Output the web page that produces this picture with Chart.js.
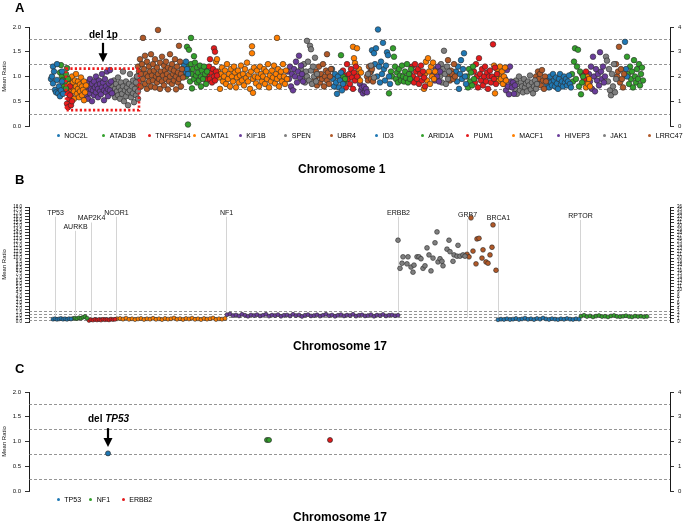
<!DOCTYPE html>
<html><head><meta charset="utf-8">
<script src="https://cdn.jsdelivr.net/npm/chart.js@4.4.0/dist/chart.umd.min.js"></script>
<style>
html,body{margin:0;padding:0;background:#fff;}
body{width:685px;height:523px;overflow:hidden;position:relative;font-family:"Liberation Sans",Arial,Helvetica,sans-serif;}
canvas{position:absolute;left:0;top:0;}
.t{position:absolute;white-space:nowrap;color:#000;}
.dot{position:absolute;width:3px;height:3px;border-radius:50%;}
</style></head>
<body>
<canvas id="cA" width="685" height="523"></canvas>
<canvas id="cB" width="685" height="523"></canvas>
<canvas id="cC" width="685" height="523"></canvas>
<script>
// ---------- colours ----------
const palette = ['#1f78b4','#33a02c','#e31a1c','#ff7f00','#6a3d9a','#7f7f7f','#b15928'];

// ---------- Panel A : chromosome 1 (position index, mean ratio) ----------
const chr1Legend = ['NOC2L','ATAD3B','TNFRSF14','CAMTA1','KIF1B','SPEN','UBR4','ID3','ARID1A','PUM1','MACF1','HIVEP3','JAK1','LRRC47'];
const chr1_NOC2L = [22,0.95,23,1.0,24,1.2,24,0.86,25,1.1,26,0.73,27,0.68,28,1.25,28,0.93,29,0.66,30,0.8,31,0.6,32,0.72,33,1.1,33,0.9,34,0.65];
const chr1_ATAD3B = [31,1.08,32,1.23,33,1.0,34,0.93,35,0.8,36,0.9,37,1.05,37,0.76,38,1.17,39,0.95];
const chr1_TNFRSF14 = [37,0.7,38,0.45,39,0.38,39,0.66,40,0.55,41,0.8,41,0.62,42,0.42,43,0.5];
const chr1_CAMTA1 = [39,0.85,40,0.72,41,0.95,42,0.6,43,0.78,43,1.0,44,0.88,45,0.55,45,0.7,46,0.92,47,0.8,47,1.05,48,0.65,49,0.75,49,0.9,50,0.58,51,0.84,51,0.7,52,0.98,53,0.62,53,0.8,54,0.73,55,0.9,55,0.52,56,0.68,57,0.82];
const chr1_KIF1B = [56,0.75,57,0.62,58,0.88,59,0.7,59,0.55,60,0.8,61,0.95,61,0.66,62,0.74,63,0.85,63,0.5,64,0.72,65,0.9,65,0.62,66,0.78,67,1.0,67,0.68,68,0.82,69,0.58,69,0.75,70,0.92,71,0.7,71,0.85,72,0.64,73,0.78,73,1.05,74,0.88,75,0.72,75,0.52,76,0.95,77,0.68,77,0.8,78,1.1,79,0.74,79,0.6,80,0.86,81,1.13,81,0.72,82,0.9,83,0.66];
const chr1_SPEN = [83,0.8,84,0.68,85,0.92,86,0.75,86,0.58,87,0.85,88,0.7,89,0.98,89,0.62,90,0.78,91,0.55,92,0.88,92,0.72,93,0.65,94,1.1,94,0.8,95,0.5,96,0.72,97,0.9,97,0.6,98,0.78,99,0.42,99,0.68,100,0.85,101,0.72,101,1.05,102,0.58,103,0.8,104,0.66,104,0.92,105,0.48,106,0.75,107,0.88,107,0.62,108,1.0,109,0.7,109,0.55];
const chr1_UBR4 = [108,1.0,108,0.78,109,1.2,110,1.1,110,0.9,111,1.35,112,1.05,112,0.8,113,1.25,114,1.78,114,0.95,115,1.15,116,1.42,116,0.85,117,1.05,118,1.3,118,0.75,119,1.0,120,1.2,120,0.9,121,1.1,122,1.45,122,0.8,123,1.02,124,1.25,124,0.92,125,1.12,126,0.78,126,1.35,127,1.0,128,1.18,128,0.88,129,1.94,129,1.05,130,0.95,131,1.28,131,0.75,132,1.1,133,1.4,133,0.9,134,1.02,135,1.22,135,0.82,136,1.12,137,0.95,137,1.3,138,1.05,139,0.74,139,1.18,140,0.9,141,1.45,141,1.0,142,1.15,143,0.85,143,1.25,144,1.05,145,0.92,145,1.12,146,1.35,147,0.74,147,1.0,148,1.2,149,0.88,149,1.08,150,1.62,150,0.95,151,1.3,152,1.05,152,0.8,153,1.15,154,0.98];
const chr1_ID3 = [155,1.22,156,1.1,157,1.3,158,1.15,159,1.05];
const chr1_ARID1A = [157,1.0,158,1.6,158,1.2,159,0.03,160,1.54,160,1.1,161,0.9,162,1.78,162,1.25,163,0.76,163,1.05,164,1.15,165,0.95,165,1.41,166,1.28,167,1.02,168,0.88,168,1.18,169,1.08,170,0.92,171,1.22,172,1.0,172,0.8,173,1.12,174,0.95,175,1.2,176,1.05,177,0.85,178,1.1];
const chr1_PUM1 = [176,1.0,177,1.12,178,0.92,179,1.05,180,1.2,181,0.95,181,1.35,182,1.08,183,0.88,184,1.15,185,1.0,185,1.57,186,1.5,186,0.92,187,1.1,188,1.02];
const chr1_MACF1 = [187,1.3,188,1.35,189,1.1,190,0.98,191,0.75,192,1.05,193,1.18,194,0.9,195,1.0,196,1.12,197,0.85,198,1.25,199,0.95,200,1.05,201,0.8,202,1.15,203,1.0,204,0.9,205,1.2,206,1.08,207,0.78,208,0.98,209,1.12,210,0.88,211,1.02,212,1.22,213,0.92,214,1.05,215,0.82,216,1.15,217,0.97,218,1.28,219,0.9,220,1.04,221,0.75,222,1.1,223,1.61,223,1.47,224,0.67,224,0.95,225,1.18,226,1.0,227,0.86,228,1.12,229,0.98,230,0.8,231,1.2,232,1.05,233,0.9,234,1.0,235,1.15,236,0.85,237,1.1,238,0.95,239,1.25,240,0.78,241,1.02,242,0.9,243,1.12,244,0.98,245,1.22,246,0.86,247,1.05,248,1.78,248,0.95,249,1.15,250,0.8,251,1.0,252,1.1,253,0.9,254,1.25,255,1.0,256,0.85,257,1.12,258,0.95];
const chr1_HIVEP3 = [259,1.1,260,0.95,261,1.2,262,0.8,263,1.05,264,0.72,265,1.15,266,1.0,267,1.3,268,0.88,269,1.1,270,1.42,271,0.98,272,1.22,273,1.05,274,0.9];
const chr1_JAK1 = [272,1.15,273,0.95,274,1.05,275,1.25,276,0.88,277,1.1,278,1.72,278,1.0,279,1.3,280,0.92,281,1.62,282,1.12,282,1.55,283,0.85,284,1.2,285,1.0,286,1.38,287,0.9,288,1.05];
const chr1_LRRC47 = [286,0.95,287,1.1,288,0.82,289,1.02,290,1.2,291,0.88,292,1.05,293,0.95,294,1.25,295,0.8,296,1.0,297,1.12,298,1.45,298,0.92,299,1.08,300,0.85,301,1.0,302,1.15];
const chr1_g15 = [303,1.15,304,0.95,305,0.8,306,1.05,307,0.88,308,0.65,309,1.0,310,0.78,311,0.92,312,1.08,313,0.72,314,0.85];
const chr1_g16 = [312,1.43,314,1.0,315,0.88,316,0.95];
const chr1_g17 = [314,1.12,315,0.9,316,1.02,317,0.78,318,1.25,319,0.95,320,1.05,321,0.85,322,1.15,323,0.98,324,0.75,325,1.08,326,0.92,327,1.2,328,1.0];
const chr1_g18 = [324,1.6,325,1.37,326,1.27,327,1.05,328,1.57,329,0.98,330,1.15,331,0.92,332,1.08];
const chr1_g19 = [331,0.85,332,0.72,333,0.78,334,0.66,335,0.8,336,0.7,337,0.75,338,0.68];
const chr1_g20 = [339,1.05,342,1.22,345,0.98];
const chr1_g21 = [338,1.0,339,0.92,340,1.2,341,1.08,342,0.95,343,1.15,344,0.9];
const chr1_g22 = [342,1.1,343,1.53,344,0.95,345,1.47,346,1.25,347,1.57,348,1.0,349,1.95,350,1.2,351,0.88,352,1.3,353,1.05,354,1.68,355,1.15,356,0.92,357,1.22,358,1.49,359,1.43,360,1.0,361,0.85];
const chr1_g23 = [360,0.66,362,1.1,363,1.0,364,1.57,365,1.4,366,1.2,367,0.95,368,1.08,369,0.88,370,1.15,371,1.02,372,0.92,373,1.22,374,1.0,375,0.9,376,1.1,377,0.97,378,1.25,379,0.88,380,1.05,381,0.95,382,1.15];
const chr1_g24 = [381,1.05,382,0.92,383,1.2,384,1.0,385,0.88,386,1.25,387,1.1,388,0.95,389,1.15,390,0.85,391,1.05,392,1.22,393,0.92,394,1.1,395,0.98,396,0.8];
const chr1_g25 = [395,0.75,396,1.05,397,1.3,398,0.92,399,1.37,400,1.1,401,0.85,402,1.2,403,1.0,404,1.28,405,0.95,406,1.1];
const chr1_g26 = [405,1.05,406,0.92,407,1.15,408,1.0,409,1.2,410,0.9,411,1.1];
const chr1_g27 = [411,1.0,412,1.25,413,0.88,414,1.15,415,1.52,416,1.05,417,0.85,418,1.2,419,0.95,420,1.1];
const chr1_g28 = [419,1.33,420,1.0,421,0.92,422,1.12,423,1.05,424,0.95,425,1.25,426,1.0];
const chr1_g29 = [427,1.1,428,0.9,429,1.2,430,0.75,431,1.05,432,1.33,433,0.95,434,1.15,435,1.47,436,1.0,437,0.85];
const chr1_g30 = [438,1.0,439,0.78,440,1.15,441,0.9,442,1.08,443,0.82,444,1.2,445,0.95];
const chr1_g31 = [445,1.1,446,0.88,447,1.25,448,1.0,449,0.78,450,1.37,451,1.05,452,0.92,453,1.15,454,0.82,455,1.0,456,1.2,457,0.9,458,1.08,459,0.75,460,1.0,461,1.12,462,0.88,463,1.0,464,1.65,465,0.95,466,1.18,467,0.85,468,1.05];
const chr1_g32 = [465,1.22,466,0.66,467,1.0,468,1.15,469,0.9,470,1.05,471,1.2,472,0.95,473,1.1,474,0.85,475,1.0,476,1.18,477,0.92];
const chr1_g33 = [475,0.85,476,0.95,477,0.72,478,1.13,479,0.8,480,0.64,481,1.2,482,0.9,483,0.78,484,0.88,485,0.65,486,0.82];
const chr1_g34 = [486,0.75,487,0.92,488,0.65,489,0.85,490,1.0,491,0.72,492,0.88,493,0.8,494,0.68,495,0.95,496,0.78,497,0.86,498,0.7,499,0.9,500,0.82,501,1.02,502,0.74,503,0.88,504,0.66,505,0.8,506,0.92,507,0.75,508,0.85];
const chr1_g35 = [507,1.0,508,0.88,509,1.1,510,0.95,511,1.05,512,0.82,513,1.13,514,0.92,515,0.75,516,1.0,517,0.9];
const chr1_g36 = [518,0.85,519,0.95,520,0.78,521,1.0,522,0.88,523,0.82,524,1.05,525,0.92,526,0.8,527,0.98,528,0.86,529,0.75,530,0.95,531,1.05,532,0.84,533,0.9,534,0.8,535,1.0,536,0.88,537,0.95,538,0.82,539,0.9,540,1.02,541,0.85,542,0.78];
const chr1_g37 = [543,1.05,544,0.9,545,1.3,546,1.57,547,0.95,548,1.2,549,1.54,550,0.8,551,1.1,552,0.64,553,0.88,554,1.0];
const chr1_g38 = [553,1.05,555,0.95,557,1.1];
const chr1_g39 = [556,0.9,557,0.78,558,1.0,559,0.85,560,0.95,561,0.8];
const chr1_g40 = [560,1.05,561,0.9,562,1.2,563,0.75,564,1.4,565,1.0,566,0.7,567,1.15,568,0.92,569,1.05,570,0.82,571,1.49,572,1.1,573,0.95,574,1.2,575,0.88,576,1.0];
const chr1_g41 = [577,1.4,578,1.32,579,0.9,580,1.15,581,0.72,582,0.62,583,1.05,584,0.8,585,1.25,586,0.68,587,0.95];
const chr1_g42 = [587,1.25,588,1.0,589,1.1,590,1.6,591,0.88,592,1.15,593,0.95,594,0.78,595,1.05];
const chr1_g43 = [596,1.7,597,1.15,598,1.0];
const chr1_g44 = [598,1.4,599,1.05,600,0.85,601,1.2,602,0.95,603,1.1,604,0.78,605,1.33,606,1.0,607,0.88,608,1.15,609,0.95,610,1.25,611,0.82,612,1.05,613,1.18,614,0.92];
// [values, colour index] in drawing order
const chr1Series = [[chr1_NOC2L,0],[chr1_ATAD3B,1],[chr1_TNFRSF14,2],[chr1_CAMTA1,3],[chr1_KIF1B,4],[chr1_SPEN,5],[chr1_UBR4,6],[chr1_ID3,0],[chr1_ARID1A,1],[chr1_PUM1,2],[chr1_MACF1,3],[chr1_HIVEP3,4],[chr1_JAK1,5],[chr1_LRRC47,6],
 [chr1_g15,0],[chr1_g16,1],[chr1_g17,2],[chr1_g18,3],[chr1_g19,4],[chr1_g20,5],[chr1_g21,6],[chr1_g22,0],[chr1_g23,1],[chr1_g24,2],[chr1_g25,3],[chr1_g26,4],[chr1_g27,5],[chr1_g28,6],
 [chr1_g29,0],[chr1_g30,1],[chr1_g31,2],[chr1_g32,3],[chr1_g33,4],[chr1_g34,5],[chr1_g35,6],[chr1_g36,0],[chr1_g37,1],[chr1_g38,2],[chr1_g39,3],[chr1_g40,4],[chr1_g41,5],[chr1_g42,6],[chr1_g43,0],[chr1_g44,1]];
const del1pBox = [37,110,0.32,1.16]; // x from, x to, ratio from, ratio to
const del1pArrow = [74,1.68,1.29];

// ---------- Panel B : chromosome 17 ----------
const chr17_TP53 = [24,0.45,26,0.5,28,0.42,30,0.48,32,0.55,34,0.45,36,0.5,38,0.42,40,0.52,42,0.47];
const chr17_AURKB = [44,0.55,46,0.6,48,0.52,50,0.65,52,0.58,54,0.75,56,0.85,58,0.6];
const chr17_MAP2K4 = [60,0.25,62,0.35,64,0.3,66,0.4,68,0.32,70,0.38,72,0.3,74,0.42,76,0.35,78,0.4,80,0.33,82,0.45,84,0.38,86,0.42];
const chr17_NCOR1 = [88,0.5,91,0.55,94,0.45,97,0.6,100,0.42,103,0.5,106,0.38,109,0.48,112,0.55,115,0.4,118,0.5,121,0.45,124,0.58,127,0.42,130,0.5,133,0.38,136,0.55,139,0.45,142,0.5,145,0.62,148,0.44,151,0.52,154,0.4,157,0.55,160,0.47,163,0.6,166,0.42,169,0.5,172,0.38,175,0.55,178,0.45,181,0.52,184,0.62,187,0.4,190,0.5,193,0.45,196,0.55];
const chr17_NF1 = [198,1.15,201,1.25,204,1.0,207,1.1,210,0.95,213,1.2,216,1.05,219,0.9,222,1.1,225,1.0,228,1.15,231,0.95,234,1.05,237,1.2,240,0.92,243,1.08,246,1.0,249,1.15,252,0.9,255,1.05,258,1.1,261,0.95,264,1.2,267,1.0,270,1.1,273,0.88,276,1.05,279,1.15,282,0.95,285,1.0,288,1.12,291,0.92,294,1.05,297,1.2,300,0.98,303,1.1,306,0.9,309,1.05,312,1.15,315,0.95,318,1.08,321,1.0,324,1.2,327,0.92,330,1.05,333,1.12,336,0.95,339,1.0,342,1.15,345,0.9,348,1.08,351,1.0,354,1.18,357,0.95,360,1.05,363,1.1,366,0.98,369,1.05];
const chr17_ERBB2 = [369,12.8,371,8.4,373,9.2,374,10.2,378,9.1,379,10.2,382,8.6,384,7.8,385,8.9,388,10.2,390,10.2,392,9.9,394,8.4,396,8.8,398,11.6,400,10.5,402,8.0,404,10.0,406,12.4,408,14.1,409,9.4,411,9.9,413,9.5,414,8.8,418,11.4,420,12.8,421,11.0,424,9.5,425,10.5,428,10.3,429,12.0,431,10.3,434,10.5,436,10.3];
const chr17_GRB7 = [438,10.6,440,10.2,442,16.3,444,11.1,447,9.1,448,13.0,450,13.1,453,10.0,454,11.3,457,9.4,459,9.2,461,10.5,463,11.7,464,15.2,467,8.1];
const chr17_BRCA1 = [469,0.35,472,0.45,475,0.4,478,0.5,481,0.38,484,0.45,487,0.55,490,0.4,493,0.48,496,0.6,499,0.42,502,0.5,505,0.38,508,0.55,511,0.45,514,0.62,517,0.48,520,0.4,523,0.52,526,0.45,529,0.38,532,0.5,535,0.42,538,0.55,541,0.45,544,0.4,547,0.5,550,0.45];
const chr17_RPTOR = [552,0.9,555,1.05,558,0.85,561,0.95,564,0.8,567,0.92,570,1.0,573,0.85,576,0.9,579,0.8,582,0.95,585,1.02,588,0.88,591,0.82,594,0.9,597,0.98,600,0.85,603,0.8,606,0.92,609,0.85,612,0.9,615,0.82,618,0.88];
const chr17Series = [[chr17_TP53,0,'s'],[chr17_AURKB,1,'s'],[chr17_MAP2K4,2,'s'],[chr17_NCOR1,3,'s'],[chr17_NF1,4,'s'],[chr17_ERBB2,5,'l'],[chr17_GRB7,6,'l'],[chr17_BRCA1,0,'s'],[chr17_RPTOR,1,'s']];
const chr17Labels = ['TP53','AURKB','MAP2K4','NCOR1','NF1','ERBB2','GRB7','BRCA1','RPTOR'];
const chr17LabelPos = [26,46,62,87,197,369,438,469,551];
const chr17LabelHeight = [17.1,14.9,16.2,17.1,17.1,17.1,16.7,16.3,16.6];

// ---------- Panel C : chromosome 17 selected genes ----------
const panelCLegend = ['TP53','NF1','ERBB2'];
const panelC_TP53 = [79,0.76];
const panelC_NF1 = [238,1.03,240,1.03];
const panelC_ERBB2 = [301,1.03];
const panelCSeries = [[panelC_TP53,0],[panelC_NF1,1],[panelC_ERBB2,2]];
const delTP53Arrow = [79,1.27,0.89];

// ratio reference lines
const refLines = [0.25,0.75,1.25,1.75];

// ---------- helpers ----------
const FONT = '"Liberation Sans", Arial, Helvetica, sans-serif';
Chart.defaults.font.family = FONT;
function pairs(a){const o=[];for(let i=0;i<a.length;i+=2)o.push({x:a[i],y:a[i+1]});return o;}
function ds(arr,ci,r,bw){return {data:pairs(arr),yAxisID:'y',xAxisID:'x',pointRadius:r,pointHoverRadius:r,pointBackgroundColor:palette[ci],pointBorderColor:'#2a2a2a',pointBorderWidth:bw,showLine:false,clip:false};}

const dashPlugin = {id:'dash',beforeDatasetsDraw(chart){const {ctx,chartArea:a}=chart;const ys=chart.scales.y;ctx.save();ctx.strokeStyle='#7a7a7a';ctx.lineWidth=0.8;ctx.setLineDash([3,2]);
 refLines.forEach(v=>{const p=Math.round(ys.getPixelForValue(v))+0.5;ctx.beginPath();ctx.moveTo(a.left,p);ctx.lineTo(a.right,p);ctx.stroke();});ctx.restore();}};
function drawArrow(ctx,x,y0,y1){ctx.save();ctx.fillStyle='#000';ctx.strokeStyle='#000';ctx.lineWidth=2.2;ctx.beginPath();ctx.moveTo(x,y0);ctx.lineTo(x,y1-7);ctx.stroke();
 ctx.beginPath();ctx.moveTo(x-4.5,y1-9);ctx.lineTo(x+4.5,y1-9);ctx.lineTo(x,y1);ctx.closePath();ctx.fill();ctx.restore();}

function makeChart(id,datasets,o,extra){
 return new Chart(document.getElementById(id),{type:'scatter',data:{datasets},
 options:{responsive:false,animation:false,devicePixelRatio:1,events:[],
  layout:{padding:{top:o.top,bottom:o.bottom,left:0,right:0}},
  plugins:{legend:{display:false},tooltip:{enabled:false}},
  scales:{
   x:{type:'linear',min:0,max:641,display:false},
   y:{type:'linear',position:'left',min:0,max:o.yMax,afterFit(s){s.width=29;},
      ticks:{stepSize:o.yStep,autoSkip:false,color:'#111',font:{size:o.yFont},padding:o.yPad,callback:v=>Number(v).toFixed(1)},
      grid:{drawOnChartArea:false,drawTicks:true,tickLength:4,color:'#000',lineWidth:0.8},
      border:{display:true,color:'#000',width:0.9},
      title:{display:true,text:'Mean Ratio',color:'#111',font:{size:6},padding:{top:1,bottom:0}}},
   y2:{type:'linear',position:'right',min:0,max:o.rMax,afterFit(s){s.width=15;},
      ticks:{stepSize:o.rStep,autoSkip:false,color:'#111',font:{size:o.rFont},padding:o.rPad,callback:v=>String(Math.round(v))},
      grid:{drawOnChartArea:false,drawTicks:true,tickLength:4,color:'#000',lineWidth:0.8},
      border:{display:true,color:'#000',width:0.9}}
  }},
 plugins:[dashPlugin].concat(extra||[])});
}

// ---------- Panel A ----------
const dsA = chr1Series.map(s=>ds(s[0],s[1],2.8,0.6));
makeChart('cA',dsA,{top:27,bottom:397,yMax:2,yStep:0.5,yFont:6,yPad:4,rMax:4,rStep:1,rFont:6,rPad:4},[{id:'aAnn',afterDatasetsDraw(chart){
 const {ctx}=chart;const xs=chart.scales.x,ys=chart.scales.y;
 const x0=xs.getPixelForValue(del1pBox[0]),x1=xs.getPixelForValue(del1pBox[1]);
 const y0=ys.getPixelForValue(del1pBox[3]),y1=ys.getPixelForValue(del1pBox[2]);
 ctx.save();ctx.strokeStyle='#ee1c1c';ctx.lineWidth=2.6;ctx.setLineDash([2.2,2.2]);ctx.strokeRect(x0,y0,x1-x0,y1-y0);ctx.restore();
 drawArrow(ctx,xs.getPixelForValue(del1pArrow[0]),ys.getPixelForValue(del1pArrow[1]),ys.getPixelForValue(del1pArrow[2]));
}}]);

// ---------- Panel B ----------
const dsB = chr17Series.map(s=>ds(s[0],s[1],s[2]==='l'?2.4:2.0,0.6));
makeChart('cB',dsB,{top:207,bottom:201,yMax:18,yStep:0.5,yFont:4.5,yPad:3,rMax:36,rStep:1,rFont:4.5,rPad:3},[{id:'bAnn',beforeDatasetsDraw(chart){
 const {ctx}=chart;const xs=chart.scales.x,ys=chart.scales.y;
 ctx.save();ctx.font='7px '+FONT;ctx.textAlign='center';ctx.textBaseline='middle';
 chr17Labels.forEach((g,i)=>{const px=Math.round(xs.getPixelForValue(chr17LabelPos[i]))+0.5;const py=ys.getPixelForValue(chr17LabelHeight[i]);
  ctx.strokeStyle='#d4d4d4';ctx.lineWidth=1;ctx.beginPath();ctx.moveTo(px,py+4);ctx.lineTo(px,ys.getPixelForValue(0.6));ctx.stroke();
  ctx.fillStyle='#111';ctx.fillText(g,px,py);});
 ctx.restore();}}]);

// ---------- Panel C ----------
const dsC = panelCSeries.map(s=>ds(s[0],s[1],2.5,0.7));
makeChart('cC',dsC,{top:392,bottom:32,yMax:2,yStep:0.5,yFont:6,yPad:4,rMax:4,rStep:1,rFont:6,rPad:4},[{id:'cAnn',afterDatasetsDraw(chart){
 const {ctx}=chart;const xs=chart.scales.x,ys=chart.scales.y;
 drawArrow(ctx,xs.getPixelForValue(delTP53Arrow[0]),ys.getPixelForValue(delTP53Arrow[1]),ys.getPixelForValue(delTP53Arrow[2]));
}}]);

// ---------- HTML text ----------
function text(html,x,baseline,size,bold){const d=document.createElement('div');d.className='t';d.innerHTML=html;
 d.style.left=x+'px';d.style.top=(baseline-0.85*size)+'px';d.style.fontSize=size+'px';d.style.lineHeight=size+'px';if(bold)d.style.fontWeight='bold';document.body.appendChild(d);}
function legend(names,colorIdx,x0,step,y){names.forEach((n,i)=>{const x=x0+i*step;const dot=document.createElement('div');dot.className='dot';
 dot.style.left=(x-1.5)+'px';dot.style.top=(y-1.5)+'px';dot.style.background=palette[colorIdx[i]];document.body.appendChild(dot);
 text(n,x+6,y+2.5,7,false);});}

text('A',15,12,13,true);
text('del 1p',89,38,10,true);
legend(chr1Legend,chr1Legend.map((_,i)=>i%7),58.3,45.5,135);
text('Chromosome 1',298,173,12,true);
text('B',15,184,13,true);
text('Chromosome 17',293,350,12,true);
text('C',15,373,13,true);
text('del <i>TP53</i>',88,422,10,true);
legend(panelCLegend,[0,1,2],58.3,32.5,499);
text('Chromosome 17',293,521.5,12,true);
</script>
</body></html>
